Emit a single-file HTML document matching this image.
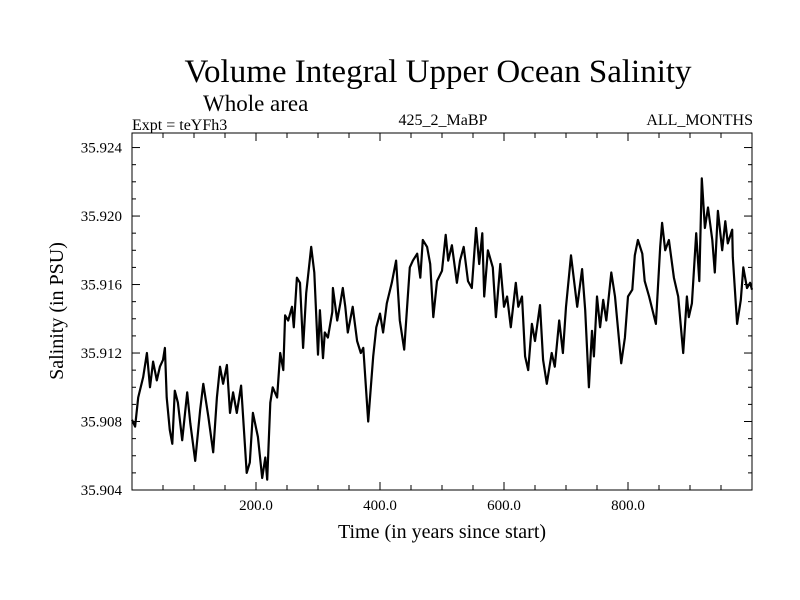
<!DOCTYPE html>
<html><head><meta charset="utf-8"><style>
body{margin:0;background:#fff}
svg{display:block;font-family:"Liberation Serif",serif}
</style></head><body>
<svg id="chart" width="800" height="600" viewBox="0 0 800 600">
<text x="438" y="82" font-size="33" text-anchor="middle">Volume Integral Upper Ocean Salinity</text>
<text x="203" y="111" font-size="23">Whole area</text>
<text x="132" y="130" font-size="16">Expt = teYFh3</text>
<text x="443" y="125" font-size="16" text-anchor="middle">425_2_MaBP</text>
<text x="753" y="125" font-size="16" text-anchor="end">ALL_MONTHS</text>
<text x="442" y="538" font-size="20" text-anchor="middle">Time (in years since start)</text>
<text transform="translate(63,311) rotate(-90)" font-size="20" text-anchor="middle">Salinity (in PSU)</text>
<rect x="132" y="133" width="620" height="357" fill="none" stroke="#000" stroke-width="1"/>
<g id="ticks"></g>
<path id="series" fill="none" stroke="#000" stroke-width="2.2" stroke-linejoin="round"/>
</svg>
<script>
const years=[0,5,10,18,24,29,34,40,45,50,53,56,61,65,69,74,81,89,94,102,110,115,123,131,137,142,147,153,158,163,169,176,185,190,195,203,210,215,218,223,227,234,239,244,247,252,258,261,266,271,276,281,289,294,300,303,308,311,316,323,324,331,336,340,344,348,356,363,369,373,381,389,394,400,405,411,419,426,432,439,448,453,460,465,469,476,481,486,492,500,506,510,516,524,529,535,542,548,555,560,565,568,574,582,587,594,600,605,611,619,623,629,634,639,645,650,658,663,669,677,682,689,695,700,708,718,726,731,737,742,745,750,755,760,765,773,779,789,795,800,807,811,816,823,827,834,845,852,855,860,866,874,881,889,895,898,903,910,915,919,924,929,936,940,945,952,957,961,968,969,976,982,986,992,997,1000];
const salinity=[35.9081,35.9077,35.9094,35.9106,35.9120,35.9100,35.9115,35.9104,35.9112,35.9116,35.9123,35.9094,35.9075,35.9067,35.9098,35.9091,35.9069,35.9097,35.9079,35.9057,35.9087,35.9102,35.9083,35.9062,35.9094,35.9112,35.9102,35.9113,35.9085,35.9097,35.9085,35.9101,35.9050,35.9056,35.9085,35.9071,35.9047,35.9059,35.9046,35.9091,35.9100,35.9094,35.9120,35.9110,35.9142,35.9139,35.9147,35.9135,35.9164,35.9161,35.9123,35.9155,35.9182,35.9167,35.9119,35.9145,35.9117,35.9132,35.9129,35.9144,35.9158,35.9139,35.9149,35.9158,35.9147,35.9132,35.9147,35.9127,35.9120,35.9123,35.9080,35.9118,35.9135,35.9143,35.9132,35.9149,35.9161,35.9174,35.9139,35.9122,35.9170,35.9174,35.9178,35.9164,35.9186,35.9182,35.9172,35.9141,35.9162,35.9168,35.9189,35.9174,35.9183,35.9161,35.9174,35.9182,35.9162,35.9158,35.9193,35.9172,35.9190,35.9153,35.9180,35.9170,35.9141,35.9172,35.9147,35.9153,35.9135,35.9161,35.9147,35.9153,35.9118,35.9110,35.9137,35.9127,35.9148,35.9116,35.9102,35.9120,35.9112,35.9139,35.9120,35.9147,35.9177,35.9147,35.9169,35.9145,35.9100,35.9133,35.9118,35.9153,35.9135,35.9151,35.9139,35.9167,35.9153,35.9114,35.9129,35.9153,35.9157,35.9177,35.9186,35.9178,35.9162,35.9153,35.9137,35.9182,35.9196,35.9180,35.9186,35.9164,35.9153,35.9120,35.9153,35.9141,35.9149,35.9190,35.9162,35.9222,35.9193,35.9205,35.9186,35.9167,35.9203,35.9180,35.9197,35.9184,35.9192,35.9176,35.9137,35.9151,35.9170,35.9158,35.9161,35.9157];
const xTickLabels=["200.0","400.0","600.0","800.0"];
const xTickValues=[200,400,600,800];
const yTickLabels=["35.904","35.908","35.912","35.916","35.920","35.924"];
const yTickValues=[35.904,35.908,35.912,35.916,35.920,35.924];
const X0=132,X1=752,Y0=490,Y1=133,xMin=0,xMax=1000,yMin=35.904,yMax=35.92485;
function sx(v){return X0+(v-xMin)/(xMax-xMin)*(X1-X0);}
function sy(v){return Y0-(v-yMin)/(yMax-yMin)*(Y0-Y1);}
const NS="http://www.w3.org/2000/svg";
const g=document.getElementById('ticks');
function line(x1,y1,x2,y2,name){const l=document.createElementNS(NS,'line');
l.setAttribute('x1',x1);l.setAttribute('y1',y1);l.setAttribute('x2',x2);l.setAttribute('y2',y2);
l.setAttribute('stroke','#000');l.setAttribute('stroke-width','1');


g.appendChild(l);}
function text(x,y,s,anchor,name){const t=document.createElementNS(NS,'text');
t.setAttribute('x',x);t.setAttribute('y',y);t.setAttribute('font-size','15');t.setAttribute('text-anchor',anchor);t.textContent=s;


g.appendChild(t);}
for(let v=50;v<1000;v+=50){const x=sx(v);const major=v%200===0;const L=major?8:5;
line(x,Y0,x,Y0-L,'x-tick');line(x,Y1,x,Y1+L,'x-tick');}
xTickValues.forEach((v,i)=>text(sx(v),Y0+20,xTickLabels[i],'middle','x-tick-label'));
for(let k=0;k<=20;k++){const v=yMin+k*0.001;const y=sy(v);const major=k%4===0;const L=major?8:4;
line(X0,y,X0+L,y,'y-tick');line(X1,y,X1-L,y,'y-tick');}
yTickValues.forEach((v,i)=>text(X0-10,sy(v)+5,yTickLabels[i],'end','y-tick-label'));
let d='';years.forEach((v,i)=>{d+=(i?'L':'M')+sx(v).toFixed(1)+','+sy(salinity[i]).toFixed(1);});
document.getElementById('series').setAttribute('d',d);
</script>
</body></html>
